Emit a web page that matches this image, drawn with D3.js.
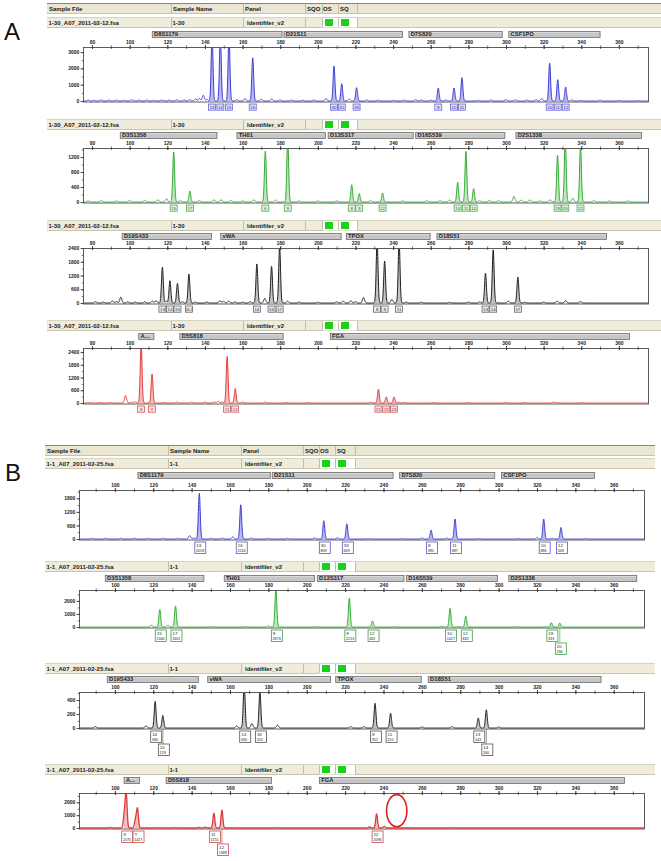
<!DOCTYPE html>
<html><head><meta charset="utf-8">
<script src="https://cdn.jsdelivr.net/npm/d3@7/dist/d3.min.js"></script>
<style>
body{margin:0;background:#fff;}
svg{display:block;font-family:"Liberation Sans",Arial,sans-serif;}
</style></head><body>
<svg id="c" width="661" height="861"></svg>
<script>
// ---------------- DATA ----------------
const columnTitles = ["Sample File","Sample Name","Panel","SQO","OS","SQ"];
const sampleA = ["1-30_A07_2011-02-12.fsa","1-30","Identifiler_v2"];
const sampleB = ["1-1_A07_2011-02-25.fsa","1-1","Identifiler_v2"];
const xTickValues = [80,100,120,140,160,180,200,220,240,260,280,300,320,340,360];

// marker bins [name, start bp, end bp]
const binsBlue  = [["D8S1179",112,181],["D21S11",182,245],["D7S820",248.4,298],["CSF1PO",301.5,350]];
const binsGreen = [["D3S1358",95,146.4],["TH01",157,204],["D13S317",205.5,250.7],["D16S539",252,299.4],["D2S1338",305.3,372]];
const binsBlack = [["D19S433",96,143.5],["vWA",148.4,212.4],["TPOX",215.1,259.7],["D18S51",263.3,353.4]];
const binsRed   = [["A...",104.8,112.9],["D5S818",126.7,181.6],["FGA",206.6,365.6]];

// labelled peaks [bp, RFU, allele]
const peaksA_blue  = [[143.8,4000,"13"],[148.2,4000,"14"],[152.8,4000,"15"],[165.4,2650,"16"],[208.6,2150,"30"],[212.7,1060,"31"],[220.6,820,"33"],[264.0,800,"8"],[272.4,800,"10"],[276.6,1430,"11"],[323.2,2330,"10"],[327.5,1310,"11"],[331.7,860,"12"]];
const peaksA_green = [[123.4,1333,"15"],[132.0,293,"17"],[172.1,1360,"6"],[184.0,1700,"9"],[218.0,462,"8"],[222.0,222,"9"],[234.4,240,"12"],[274.3,524,"10"],[278.7,1350,"11"],[282.8,356,"12"],[327.4,1244,"19"],[331.5,1700,"20"],[339.6,1480,"22"]];
const peaksA_black = [[117.4,1560,"13"],[121.4,973,"14"],[125.4,855,"15"],[131.5,1268,"16.2"],[167.6,1705,"14"],[175.4,1600,"16"],[179.7,2450,"17"],[231.5,2700,"8"],[235.5,1825,"9"],[243.2,2700,"11"],[289.1,1298,"13"],[293.2,2320,"14"],[306.3,1131,"17"]];
const peaksA_red   = [[106.1,2800,"X"],[111.9,1367,"Y"],[151.8,2194,"11"],[156.1,684,"12"],[232.2,652,"21"],[236.4,286,"22"],[240.5,286,"23"]];

const peaksB_blue  = [[144.0,2018,"13"],[165.6,1516,"16"],[208.9,809,"30"],[220.9,669,"33"],[264.8,395,"8"],[277.3,887,"11"],[323.5,886,"10"],[332.5,509,"12"]];
const peaksB_green = [[123.4,1340,"15"],[131.6,1601,"17"],[183.9,2873,"9"],[222.2,2213,"9"],[234.3,462,"12"],[274.7,1427,"10"],[282.9,832,"12"],[327.5,333,"19"],[331.9,296,"20"]];
const peaksB_black = [[121.0,380,"14"],[125.0,178,"15"],[167.4,630,"14"],[175.6,520,"16"],[235.6,352,"9"],[243.7,210,"11"],[289.4,143,"13"],[293.6,260,"14"]];
const peaksB_red   = [[105.9,2575,"X"],[111.8,1427,"Y"],[151.6,1151,"11"],[155.8,1389,"12"],[236.4,1096,"22"]];

// unlabelled small peaks / noise [bp, RFU]
const noiseA_blue  = [[78,60],[81,40],[85,70],[89,50],[93,60],[97,40],[101,70],[105,50],[109,60],[113,40],[117,60],[121,50],[125,70],[129,60],[132,80],[135,120],[137,150],[139.1,350],[141,100],[157,80],[161.3,150],[170,100],[175.5,120],[180,60],[186,60],[192,50],[198,60],[204.3,150],[216.7,120],[226,60],[232,50],[240,40],[246,60],[252,80],[255,60],[260,50],[268,60],[285,40],[292,60],[300,80],[305,70],[311,60],[316,80],[319,150],[335,60],[340,40],[350,50],[360,40],[370,30]];
const noiseA_green = [[78,30],[85,40],[93,30],[100,40],[108,40],[115,60],[119.6,90],[127,40],[137,40],[144.8,60],[148.6,60],[153.9,40],[160,30],[166,60],[177.5,50],[190,30],[200,30],[210,30],[228,40],[245,30],[258,40],[265,40],[270,50],[286,40],[291.2,40],[296,40],[304.2,150],[308,50],[312.6,60],[318,30],[323.4,60],[335.5,100],[346.7,40],[355,30],[365,30]];
const noiseA_black = [[81.8,60],[86,40],[90.8,90],[93,60],[95.3,250],[99,50],[103,40],[108,50],[112,80],[114,100],[119.5,80],[128,60],[135,40],[141,40],[148,100],[150,70],[152.7,80],[156,50],[160,40],[164,60],[171.8,200],[184,80],[190,40],[200,30],[210,50],[213.5,80],[217.5,100],[220,60],[224.3,240],[239.4,150],[247,40],[255,30],[270,30],[280,40],[286,50],[301.3,80],[310,30],[320,40],[327.2,80],[331.7,100],[339.6,60]];
const noiseA_red   = [[78,30],[84,30],[90,30],[97.8,350],[101,40],[103,60],[118,30],[125,40],[133,40],[140,40],[145,50],[147,80],[149,40],[160,40],[172,40],[183,30],[195,30],[228,40],[243,40],[246,30],[262,30],[280,30],[300,30],[310,30],[325,40],[327,30],[340,30]];
const noiseB_blue  = [[88,30],[95,30],[103,30],[110,30],[117,30],[125,30],[133,30],[139,150],[141,40],[150,30],[156,40],[161.4,100],[171,40],[180,30],[190,30],[204,50],[216,50],[232,20],[250,20],[260,40],[273,40],[290,20],[310,20],[320,60],[328,30],[345,20]];
const noiseB_green = [[119,130],[127.6,130],[150,20],[169,30],[179.9,80],[204.8,30],[245,20],[270.3,60],[278.9,40],[310,20],[324,30]];
const noiseB_black = [[89.8,20],[116.2,30],[163.5,30],[171.4,62],[184.8,40],[222.8,20],[230,20],[260,15],[275.6,20],[300,15]];
const noiseB_red   = [[97.5,40],[105.0,1100],[110.8,700],[123.4,20],[131.6,20],[143.7,40],[147,60],[160.8,20],[184.3,20],[232.7,80],[240.4,120],[275,20]];

// y tick labels per panel
const yTicksA_blue = [0,1000,2000,3000], yTicksA_green = [0,400,800,1200], yTicksA_black = [0,600,1200,1800,2400], yTicksA_red = [0,600,1200,1800,2400];
const yTicksB_blue = [0,600,1200,1800], yTicksB_green = [0,1000,2000], yTicksB_black = [0,200,400], yTicksB_red = [0,1000,2000];

// missing-allele marker (bp, RFU centre; half-width bp; half-height RFU)
const missingMark = [246.9, 1350, 5.3, 1250];

// ---------------- DRAWING ----------------
const svg = d3.select("#c");
const FONT = '"Liberation Sans",Arial,sans-serif';

const groupA = {cols:[47,171,243,305,322,338,357], right:661, frame:[83,649], dom:[75.2,376.0], sample:sampleA, twoLine:false};
const groupB = {cols:[45,168,241,303,319,335,355], right:655, frame:[79,645], dom:[81.3,376.3], sample:sampleB, twoLine:true};

const COLORS = {
  blue:  {line:"#3a3ad2", fill:"#b8b8f2", boxFill:"#dcdcf8", boxStroke:"#5656d0", text:"#2a2a9a"},
  green: {line:"#32aa32", fill:"#bce8bc", boxFill:"#dcf2dc", boxStroke:"#3ea03e", text:"#1f6f1f"},
  black: {line:"#1c1c1c", fill:"#c4c4c4", boxFill:"#ececec", boxStroke:"#555",    text:"#222"},
  red:   {line:"#e03a3a", fill:"#f6bcbc", boxFill:"#fbe2e2", boxStroke:"#d04848", text:"#9a2020"}
};

let clipId = 0;

function headerRow(grp, y, texts, isTitle){
  const g = svg.append("g");
  const c = grp.cols;
  g.append("rect").attr("x",c[0]).attr("y",y).attr("width",grp.right-c[0]).attr("height",11)
    .attr("fill", isTitle ? "#ebe6d2" : "#f0ecdb").attr("stroke","none");
  g.append("line").attr("x1",c[0]).attr("x2",grp.right).attr("y1",y+0.5).attr("y2",y+0.5).attr("stroke", isTitle?"#8a8778":"#d8d3bf");
  g.append("line").attr("x1",c[0]).attr("x2",grp.right).attr("y1",y+10.5).attr("y2",y+10.5).attr("stroke","#c9c4b0");
  if(!isTitle){
    g.append("rect").attr("x",c[4]).attr("y",y+1).attr("width",c[6]-c[4]).attr("height",9.5).attr("fill","#fff");
    [c[4],c[5]].forEach(cx=>{
      g.append("rect").attr("x",cx+3).attr("y",y+2).attr("width",8).attr("height",7).attr("fill","#17d317");
    });
  }
  c.slice(1).forEach(cx=>{
    g.append("line").attr("x1",cx+0.5).attr("x2",cx+0.5).attr("y1",y+1).attr("y2",y+10).attr("stroke","#c2bda8");
  });
  texts.forEach((t,i)=>{
    const off = isTitle ? (i===4?1:2) : (i===2?4:1.5);
    g.append("text").attr("x",c[i]+off).attr("y",y+7.6).text(t)
      .attr("font-size",6).attr("font-weight","bold").attr("fill","#202020").attr("font-family",FONT);
  });
}

function drawPanel(grp, p){
  const col = COLORS[p.color];
  const [fl, fr] = grp.frame;
  const x = d3.scaleLinear().domain(grp.dom).range([fl, fr]);
  const y = d3.scaleLinear().domain([0, p.ymax]).range([p.fb, p.ft]);

  if(p.titleY !== undefined) headerRow(grp, p.titleY, columnTitles, true);
  headerRow(grp, p.hy, grp.sample, false);

  // bins
  const gb = svg.append("g");
  p.bins.forEach(b=>{
    gb.append("rect").attr("x",x(b[1])).attr("y",p.binY+0.5).attr("width",x(b[2])-x(b[1])).attr("height",6)
      .attr("fill","#c6c6c6").attr("stroke","#6c6c6c").attr("stroke-width",0.8);
    gb.append("line").attr("x1",x(b[1])+1).attr("x2",x(b[2])-1).attr("y1",p.binY+1.5).attr("y2",p.binY+1.5).attr("stroke","#e4e4e4").attr("stroke-width",0.6);
    gb.append("text").attr("x",x(b[1])+1.8).attr("y",p.binY+5.4).text(b[0])
      .attr("font-size",5.8).attr("font-weight","bold").attr("fill","#1e1e1e").attr("font-family",FONT);
  });

  // frame
  svg.append("rect").attr("x",fl+0.5).attr("y",p.ft+0.5).attr("width",fr-fl-1).attr("height",p.fb-p.ft+0.5)
    .attr("fill","#fff").attr("stroke","#4a4a4a").attr("stroke-width",0.9);

  // x axis (top)
  const ticksIn = xTickValues.filter(v=>v>grp.dom[0] && v<grp.dom[1]);
  const minor = d3.range(Math.ceil(grp.dom[0]/10)*10, grp.dom[1], 10);
  const axMinor = svg.append("g").attr("transform",`translate(0,${p.ft+0.5})`)
    .call(d3.axisTop(x).tickValues(minor).tickSize(2).tickFormat(""));
  axMinor.select(".domain").remove();
  axMinor.selectAll(".tick line").attr("y1",1.5).attr("stroke","#333").attr("stroke-width",0.7);
  const ax = svg.append("g").attr("transform",`translate(0,${p.ft+0.5})`)
    .call(d3.axisTop(x).tickValues(ticksIn).tickSize(2.5).tickPadding(1.3).tickFormat(d3.format("d")));
  ax.select(".domain").remove();
  ax.attr("font-size",null).attr("font-family",null);
  ax.selectAll(".tick line").attr("y1",1.5).attr("stroke","#333").attr("stroke-width",0.8);
  ax.selectAll(".tick text").attr("font-size",5).attr("font-weight","bold").attr("fill","#222").attr("font-family",FONT);

  // y axis
  const step = p.yTicks[1]-p.yTicks[0];
  const yMinor = d3.range(0, p.ymax+1, step/2);
  const ayM = svg.append("g").attr("transform",`translate(${fl+0.5},0)`)
    .call(d3.axisLeft(y).tickValues(yMinor).tickSize(1.8).tickFormat(""));
  ayM.select(".domain").remove();
  ayM.selectAll(".tick line").attr("stroke","#333").attr("stroke-width",0.7);
  const ay = svg.append("g").attr("transform",`translate(${fl+0.5},0)`)
    .call(d3.axisLeft(y).tickValues(p.yTicks).tickSize(3).tickPadding(1.2).tickFormat(d3.format("d")));
  ay.select(".domain").remove();
  ay.attr("font-size",null).attr("font-family",null);
  ay.selectAll(".tick line").attr("stroke","#333").attr("stroke-width",0.8);
  ay.selectAll(".tick text").attr("font-size",5).attr("font-weight","bold").attr("fill","#222").attr("font-family",FONT);

  // trace
  const id = "clip"+(clipId++);
  svg.append("clipPath").attr("id",id).append("rect")
    .attr("x",fl+1).attr("y",p.ft+1).attr("width",fr-fl-2).attr("height",p.fb-p.ft+1);
  const SIG = 0.48, SIGN = 0.55;
  const g1 = (v,c,h,s)=> h*Math.exp(-((v-c)*(v-c))/(2*s*s));
  const signal = v => p.peaks.reduce((s,q)=>s+g1(v,q[0],q[1],SIG),0) + p.noise.reduce((s,q)=>s+g1(v,q[0],q[1],SIGN),0);
  const xs = d3.range(grp.dom[0], grp.dom[1], 0.06);
  const pts = xs.map(v=>[v, signal(v)]);
  const gt = svg.append("g").attr("clip-path",`url(#${id})`);
  // fills of labelled peaks
  p.peaks.forEach(q=>{
    const seg = pts.filter(d=>Math.abs(d[0]-q[0])<=1.5);
    gt.append("path").datum(seg)
      .attr("d", d3.area().x(d=>x(d[0])).y0(y(0)).y1(d=>y(Math.min(d[1], p.ymax*1.1))))
      .attr("fill", col.fill);
  });
  gt.append("path").datum(pts)
    .attr("d", d3.line().x(d=>x(d[0])).y(d=>y(Math.min(d[1], p.ymax*1.1))))
    .attr("fill","none").attr("stroke",col.line).attr("stroke-width", p.lw||1).attr("stroke-linejoin","round");

  // allele labels
  const gl = svg.append("g");
  if(!grp.twoLine){
    p.peaks.forEach(q=>{
      const cx = x(q[0]);
      gl.append("rect").attr("x",cx-3.5).attr("y",p.fb+3).attr("width",7).attr("height",6.2)
        .attr("fill",col.boxFill).attr("stroke",col.boxStroke).attr("stroke-width",0.7);
      gl.append("text").attr("x",cx).attr("y",p.fb+7.9).attr("text-anchor","middle").text(q[2])
        .attr("font-size", q[2].length>2?3.6:4.4).attr("fill",col.text).attr("font-family",FONT);
    });
  } else {
    let prevRight = -1e9;
    p.peaks.forEach(q=>{
      const left = x(q[0]) - 4.5, w = 11;
      const row = left < prevRight ? 1 : 0;
      if(row===0) prevRight = left + w;
      const top = p.fb + 3 + row*13;
      if(row===1){
        gl.append("line").attr("x1",x(q[0])).attr("x2",x(q[0])).attr("y1",p.fb+1).attr("y2",top)
          .attr("stroke",col.boxStroke).attr("stroke-width",0.6);
      }
      gl.append("rect").attr("x",left).attr("y",top).attr("width",w).attr("height",11.5)
        .attr("fill","#fff").attr("stroke",col.boxStroke).attr("stroke-width",0.8);
      gl.append("text").attr("x",left+1.5).attr("y",top+5).text(q[2])
        .attr("font-size",4.4).attr("fill","#222").attr("font-family",FONT);
      gl.append("text").attr("x",left+1.2).attr("y",top+10.2).text(String(q[1]))
        .attr("font-size",3.7).attr("fill","#222").attr("font-family",FONT);
    });
  }

  if(p.mark){
    const m = p.mark;
    svg.append("ellipse").attr("cx",x(m[0])).attr("cy",y(m[1]))
      .attr("rx",x(m[0]+m[2])-x(m[0])).attr("ry",y(0)-y(m[3]))
      .attr("fill","none").attr("stroke","#d42424").attr("stroke-width",1.6);
  }
}

// panel letters
svg.append("text").attr("x",4).attr("y",40).text("A").attr("font-size",24).attr("font-family",FONT).attr("fill","#111");
svg.append("text").attr("x",5).attr("y",481).text("B").attr("font-size",24).attr("font-family",FONT).attr("fill","#111");

// Panel A
drawPanel(groupA,{titleY:3, hy:17, binY:31, ft:47, fb:101, ymax:3310, yTicks:yTicksA_blue, bins:binsBlue, peaks:peaksA_blue, noise:noiseA_blue, color:"blue"});
drawPanel(groupA,{hy:119, binY:132, ft:148, fb:202, ymax:1440, yTicks:yTicksA_green, bins:binsGreen, peaks:peaksA_green, noise:noiseA_green, color:"green"});
drawPanel(groupA,{hy:220, binY:233, ft:248, fb:303, ymax:2400, yTicks:yTicksA_black, bins:binsBlack, peaks:peaksA_black, noise:noiseA_black, color:"black"});
drawPanel(groupA,{hy:320, binY:333, ft:348, fb:403, ymax:2590, yTicks:yTicksA_red, bins:binsRed, peaks:peaksA_red, noise:noiseA_red, color:"red"});

// Panel B
drawPanel(groupB,{titleY:445, hy:458, binY:472, ft:490, fb:539, ymax:2170, yTicks:yTicksB_blue, bins:binsBlue, peaks:peaksB_blue, noise:noiseB_blue, color:"blue"});
drawPanel(groupB,{hy:561, binY:575, ft:590, fb:627, ymax:2830, yTicks:yTicksB_green, bins:binsGreen, peaks:peaksB_green, noise:noiseB_green, color:"green"});
drawPanel(groupB,{hy:663, binY:676, ft:692, fb:728, ymax:514, yTicks:yTicksB_black, bins:binsBlack, peaks:peaksB_black, noise:noiseB_black, color:"black"});
drawPanel(groupB,{hy:764, binY:777, ft:793, fb:828, ymax:2730, yTicks:yTicksB_red, bins:binsRed, peaks:peaksB_red, noise:noiseB_red, color:"red", lw:1.3, mark:missingMark});
</script>
</body></html>
